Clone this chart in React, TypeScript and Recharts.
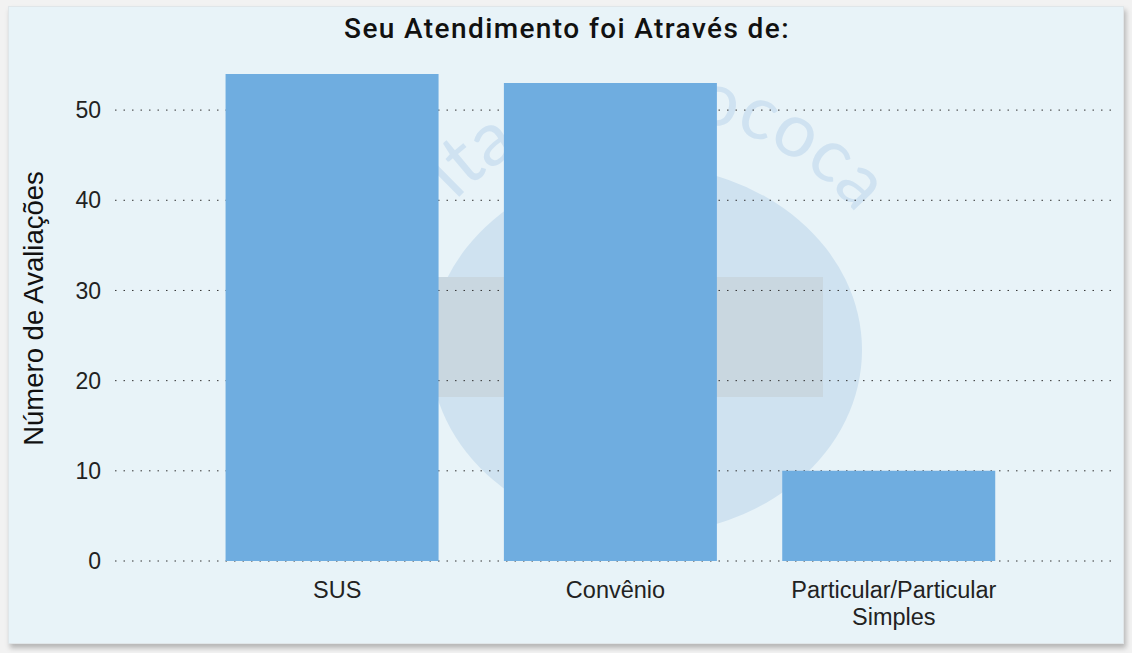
import React from 'react';
import { BarChart, Bar, XAxis, YAxis, CartesianGrid } from 'recharts';

// categories and counts
const categories = ['SUS', 'Convênio', 'Particular/Particular Simples'];
const avaliacoes = [54, 53, 10];
const yTicks = [0, 10, 20, 30, 40, 50];

const data = categories.map((name, i) => ({ name, value: avaliacoes[i] }));

const FONT = '"Liberation Sans", Arial, sans-serif';

const CategoryTick = (props: any) => {
  const { x, y, payload } = props;
  const label: string = payload.value;
  const lines = label.includes('/') ? [label.split(' ')[0], label.split(' ').slice(1).join(' ')] : [label];
  return (
    <g transform={`translate(${x + 5},${y})`}>
      {lines.map((line, i) => (
        <text
          key={i}
          x={0}
          y={i * 27}
          dy={29}
          textAnchor="middle"
          fill="#222"
          fontSize={23.5}
          fontFamily={FONT}
        >
          {line}
        </text>
      ))}
    </g>
  );
};

// watermark arc (decoration only)
const wm = { cx: 650, cy: 385, r: 268 };
const arcPath = `M ${wm.cx - wm.r} ${wm.cy} A ${wm.r} ${wm.r} 0 0 1 ${wm.cx + wm.r} ${wm.cy}`;

const App = () => {
  return (
    <div style={{ position: 'absolute', left: 0, top: 0, width: 1132, height: 653, background: '#f2f2f2' }}>
      {/* card */}
      <div
        style={{
          position: 'absolute',
          left: 8,
          top: 6,
          width: 1114,
          height: 636,
          background: '#e8f3f8',
          boxShadow: '2px 4px 5px rgba(0,0,0,0.25)',
          border: '1px solid #e0e6e9',
        }}
      />
      {/* faint watermark behind the plot */}
      <svg style={{ position: 'absolute', left: 0, top: 0 }} width={1132} height={653}>
        <defs>
          <path id="wmArc" d={arcPath} />
        </defs>
        <ellipse cx={646} cy={350} rx={216} ry={184} fill="#cfe2f0" />
        <rect x={430} y={277} width={393} height={120} fill="#c9d7e0" />
        <text fontSize={75} fontFamily="Lato, sans-serif" fill="#cfe2f1">
          <textPath href="#wmArc" startOffset={244} textAnchor="middle">ita</textPath>
        </text>
        <text fontSize={75} fontFamily="Lato, sans-serif" fill="#cfe2f1">
          <textPath href="#wmArc" startOffset={560} textAnchor="middle">ococa</textPath>
        </text>
      </svg>
      <div style={{ position: 'absolute', left: 0, top: 0 }}>
        <BarChart
          width={1132}
          height={653}
          data={data}
          margin={{ top: 56, right: 17, bottom: 32, left: 50 }}
          barCategoryGap="11.7%"
        >
          <text
            x={567}
            y={38}
            textAnchor="middle"
            fontFamily="Roboto, sans-serif"
            fontWeight={500}
            fontSize={28}
            letterSpacing={1.4}
            fill="#111"
          >
            Seu Atendimento foi Através de:
          </text>
          <CartesianGrid vertical={false} horizontalValues={yTicks} stroke="#333" strokeDasharray="1.5 7" />
          <XAxis
            dataKey="name"
            axisLine={false}
            tickLine={false}
            interval={0}
            height={60}
            padding={{ left: 78, right: 87 }}
            tick={<CategoryTick />}
          />
          <YAxis
            domain={[0, 56]}
            ticks={yTicks}
            axisLine={false}
            tickLine={false}
            width={65}
            tickMargin={8}
            tick={{ fill: '#222', fontSize: 23, fontFamily: FONT }}
            label={{
              value: 'Número de Avaliações',
              angle: -90,
              position: 'insideLeft',
              offset: 0,
              dx: -17,
              style: { textAnchor: 'middle', fill: '#111', fontSize: 27.5, fontFamily: FONT },
            }}
          />
          <Bar dataKey="value" fill="#6fade0" isAnimationActive={false} />
        </BarChart>
      </div>
    </div>
  );
};

export default App;
